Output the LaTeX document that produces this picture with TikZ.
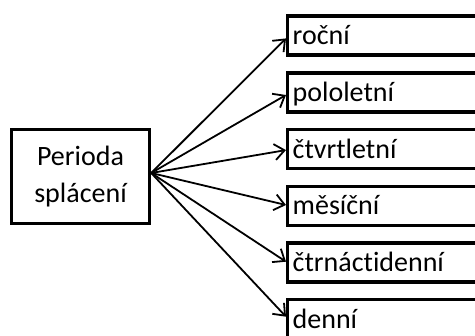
\documentclass[tikz,border=0pt]{standalone}
\usepackage{fontspec}
\setmainfont[Ligatures=NoCommon]{Carlito}
\usetikzlibrary{arrows.meta}

\tikzset{
  boxline/.style={draw=black, line width=3.4pt},
  sourcebox/.style={boxline, minimum width=138pt, minimum height=94pt,
    align=center, inner sep=0pt,
    font=\fontsize{28}{37}\selectfont},
  itembox/.style={boxline, anchor=north west, minimum width=220pt,
    minimum height=39pt, inner xsep=5pt, inner ysep=0pt,
    text width=210pt, align=left, text height=20pt, text depth=2pt,
    font=\fontsize{28}{37}\selectfont},
  link/.style={line width=1.8pt,
    -{Straight Barb[length=10pt, width=16pt, line width=1.8pt]}}
}

\begin{document}
\begin{tikzpicture}[x=1pt, y=-1pt]
  \clip (0,0) rectangle (475,336);

  % source box on the left
  \node[sourcebox] (L) at (80.5,176.4) {Perioda\\splácení};
  \coordinate (src) at ([yshift=3.4pt]L.east);

  % the six repayment periods
  \node[itembox] (r1) at (286,14.5)  {roční};
  \node[itembox] (r2) at (286,71.2)  {pololetní};
  \node[itembox] (r3) at (286,127.9) {čtvrtletní};
  \node[itembox] (r4) at (286,184.6) {měsíční};
  \node[itembox] (r5) at (286,241.3) {čtrnáctidenní};
  \node[itembox] (r6) at (286,298)   {denní};

  % fan of arrows from the source box
  \draw[link] (src) -- ([yshift=-2.7pt]r1.west);
  \draw[link] (src) -- ([yshift=-2.6pt]r2.west);
  \draw[link] (src) -- ([yshift=-1pt]r3.west);
  \draw[link] (src) -- ([yshift=0.8pt]r4.west);
  \draw[link] (src) -- ([yshift=0.8pt]r5.west);
  \draw[link] (src) -- ([yshift=2.5pt]r6.west);
\end{tikzpicture}
\end{document}
